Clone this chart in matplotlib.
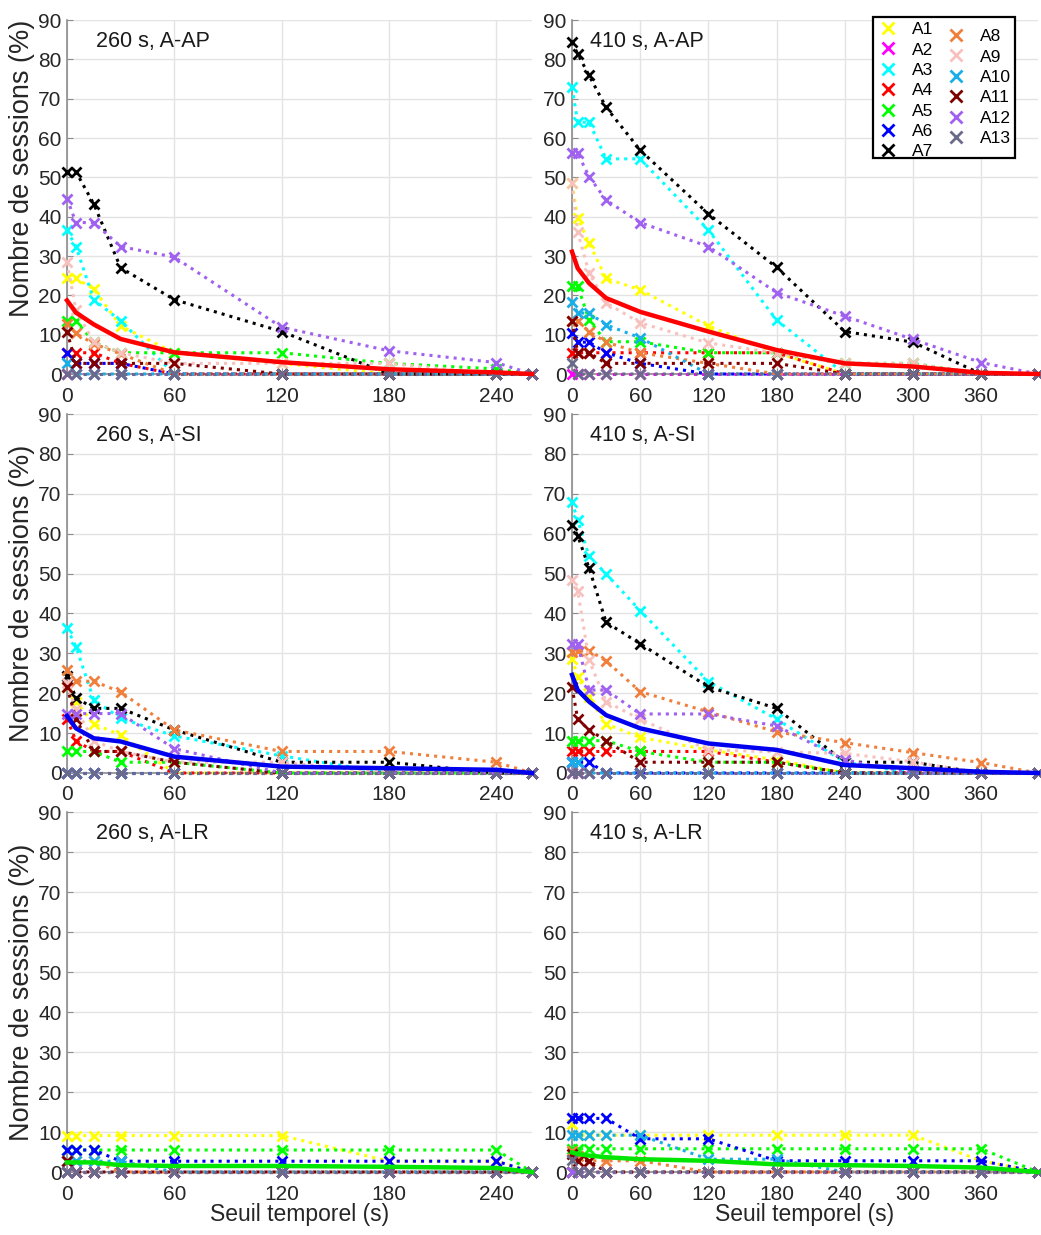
import matplotlib
matplotlib.use("Agg")
import matplotlib.pyplot as plt
from matplotlib.lines import Line2D
from matplotlib.patches import Rectangle

plt.rcParams['font.family'] = ['Liberation Sans', 'DejaVu Sans']

# -----------------------------
# data
# -----------------------------
x260 = [0, 5, 15, 30, 60, 120, 180, 240, 260]
x410 = [0, 5, 15, 30, 60, 120, 180, 240, 300, 360, 410]

names = ['A1', 'A2', 'A3', 'A4', 'A5', 'A6', 'A7',
         'A8', 'A9', 'A10', 'A11', 'A12', 'A13']
colors = ['#ffff00', '#ff00ff', '#00ffff', '#ff0000', '#00ff00', '#0000ff', '#000000',
          '#f07f3c', '#f7c1be', '#19aee8', '#800000', '#a060f0', '#6a6a8a']

z9 = [0] * 9
z11 = [0] * 11

# 260 s, A-AP
ap260 = [
    [24.3, 24.3, 21.6, 12.2, 5.4, 2.7, 0, 0, 0],
    z9,
    [36.5, 32.4, 18.9, 13.5, 0, 0, 0, 0, 0],
    [5.4, 5.4, 5.4, 2.7, 0, 0, 0, 0, 0],
    [13.5, 13.5, 8.1, 5.4, 5.4, 5.4, 2.7, 1.3, 0],
    [5.4, 2.7, 2.7, 2.7, 0, 0, 0, 0, 0],
    [51.4, 51.4, 43.2, 27.0, 18.9, 10.8, 0, 0, 0],
    [12.8, 10.3, 7.7, 5.1, 0, 0, 0, 0, 0],
    [28.4, 16.2, 8.1, 5.4, 2.7, 2.7, 2.7, 0, 0],
    [2.7, 0, 0, 0, 0, 0, 0, 0, 0],
    [10.8, 2.7, 2.7, 2.7, 2.7, 0, 0, 0, 0],
    [44.6, 38.5, 38.5, 32.4, 29.7, 11.9, 5.9, 2.9, 0],
    z9,
]
ap260_mean = [18.7, 15.6, 12.6, 8.9, 5.5, 3.0, 1.2, 0.4, 0]

# 410 s, A-AP
ap410 = [
    [48.6, 39.7, 33.3, 24.3, 21.4, 12.2, 5.4, 0, 0, 0, 0],
    z11,
    [72.9, 64.0, 64.0, 54.7, 54.7, 36.6, 13.7, 0, 0, 0, 0],
    [5.4, 5.4, 5.4, 5.4, 5.4, 5.4, 5.4, 0, 0, 0, 0],
    [22.4, 22.4, 13.7, 8.2, 8.2, 5.4, 5.4, 2.7, 2.7, 0, 0],
    [10.5, 8.1, 8.1, 5.4, 2.7, 0, 0, 0, 0, 0, 0],
    [84.3, 81.4, 75.9, 67.8, 56.9, 40.7, 27.1, 10.8, 8.1, 0, 0],
    [13.5, 13.5, 10.8, 8.1, 5.4, 2.7, 0, 0, 0, 0, 0],
    [48.6, 36.1, 25.7, 18.1, 13.0, 7.9, 5.3, 2.7, 2.7, 0, 0],
    [18.4, 15.5, 15.5, 12.5, 9.2, 0, 0, 0, 0, 0, 0],
    [13.5, 5.4, 5.4, 2.7, 2.7, 2.7, 2.7, 0, 0, 0, 0],
    [56.1, 56.1, 50.2, 44.2, 38.5, 32.4, 20.7, 14.7, 8.8, 2.9, 0],
    [2.7, 0, 0, 0, 0, 0, 0, 0, 0, 0, 0],
]
ap410_mean = [31.1, 26.9, 23.1, 19.3, 15.8, 10.8, 6.1, 2.7, 1.9, 0.3, 0]

# 260 s, A-SI
si260 = [
    [21.6, 17.9, 12.3, 9.5, 0, 0, 0, 0, 0],
    z9,
    [36.3, 31.7, 18.3, 13.7, 9.3, 4.3, 0, 0, 0],
    [13.5, 8.1, 5.4, 5.4, 0, 0, 0, 0, 0],
    [5.4, 5.4, 5.4, 2.7, 2.7, 0, 0, 0, 0],
    z9,
    [24.3, 18.9, 16.2, 16.2, 10.8, 2.7, 2.7, 0, 0],
    [25.7, 23.0, 23.0, 20.3, 10.8, 5.4, 5.4, 2.7, 0],
    [22.5, 16.0, 8.1, 5.4, 2.7, 2.7, 0, 0, 0],
    z9,
    [21.6, 13.5, 5.4, 5.4, 2.7, 0, 0, 0, 0],
    [14.9, 14.9, 14.9, 14.9, 6.1, 0, 0, 0, 0],
    z9,
]
si260_mean = [14.3, 11.2, 8.7, 7.9, 4.1, 1.6, 1.2, 0.8, 0]

# 410 s, A-SI
si410 = [
    [28.7, 24.1, 19.0, 12.3, 8.9, 5.8, 3.3, 0, 0, 0, 0],
    z11,
    [68.0, 63.4, 54.4, 49.9, 40.7, 22.9, 13.5, 2.7, 0, 0, 0],
    [5.4, 5.4, 5.4, 5.4, 5.4, 5.4, 2.7, 0, 0, 0, 0],
    [8.1, 8.1, 8.1, 8.1, 5.4, 2.7, 2.7, 0, 0, 0, 0],
    [2.7, 2.7, 2.7, 0, 0, 0, 0, 0, 0, 0, 0],
    [62.2, 59.5, 51.4, 37.8, 32.4, 21.6, 16.2, 2.7, 2.7, 0, 0],
    [30.4, 30.5, 30.7, 28.1, 20.4, 15.3, 10.3, 7.6, 5.1, 2.6, 0],
    [48.4, 45.7, 28.3, 17.9, 13.5, 5.8, 5.3, 4.9, 2.8, 0, 0],
    [2.7, 2.7, 0, 0, 0, 0, 0, 0, 0, 0, 0],
    [21.6, 13.5, 10.8, 8.1, 2.7, 2.7, 2.7, 0, 0, 0, 0],
    [32.4, 32.4, 20.8, 20.8, 14.8, 14.8, 11.8, 3.3, 0, 0, 0],
    z11,
]
si410_mean = [24.6, 20.8, 17.9, 14.5, 11.2, 7.4, 5.8, 2.0, 1.2, 0.3, 0]

# 260 s, A-LR
lr260 = [
    [9.1, 9.1, 9.1, 9.1, 9.1, 9.1, 2.7, 2.7, 0],
    z9,
    z9,
    z9,
    [5.5, 5.5, 5.5, 5.5, 5.5, 5.5, 5.5, 5.5, 0],
    [5.5, 5.5, 5.5, 2.7, 2.7, 2.7, 2.7, 2.7, 0],
    z9,
    [2.7, 2.7, 2.7, 0, 0, 0, 0, 0, 0],
    z9,
    [2.7, 2.7, 2.7, 2.7, 0, 0, 0, 0, 0],
    [2.7, 0, 0, 0, 0, 0, 0, 0, 0],
    z9,
    z9,
]
lr260_mean = [2.4, 2.4, 2.4, 1.7, 1.5, 1.5, 1.3, 1.0, 0]

# 410 s, A-LR
lr410 = [
    [11.9, 9.2, 9.2, 9.2, 9.2, 9.2, 9.2, 9.2, 9.2, 2.8, 0],
    z11,
    z11,
    z11,
    [5.8, 5.8, 5.8, 5.8, 5.8, 5.8, 5.8, 5.8, 5.8, 5.8, 0],
    [13.4, 13.4, 13.4, 13.4, 8.3, 8.3, 2.8, 2.8, 2.8, 2.8, 0],
    z11,
    [5.3, 4.0, 2.8, 2.8, 2.8, 0, 0, 0, 0, 0, 0],
    z11,
    [9.2, 9.2, 9.2, 9.2, 9.2, 3.2, 3.2, 0, 0, 0, 0],
    [4.5, 2.8, 2.8, 0, 0, 0, 0, 0, 0, 0, 0],
    z11,
    [3.1, 0, 0, 0, 0, 0, 0, 0, 0, 0, 0],
]
lr410_mean = [4.9, 4.5, 4.1, 3.7, 3.2, 2.8, 1.9, 1.7, 1.5, 1.1, 0]

panels = [
    ('260 s, A-AP', x260, ap260, ap260_mean, '#ff0000'),
    ('410 s, A-AP', x410, ap410, ap410_mean, '#ff0000'),
    ('260 s, A-SI', x260, si260, si260_mean, '#0000ee'),
    ('410 s, A-SI', x410, si410, si410_mean, '#0000ee'),
    ('260 s, A-LR', x260, lr260, lr260_mean, '#00e600'),
    ('410 s, A-LR', x410, lr410, lr410_mean, '#00e600'),
]

# -----------------------------
# figure
# -----------------------------
W, H = 1041, 1235
fig = plt.figure(figsize=(W / 100, H / 100), dpi=100)

col_px = [(67, 532), (572, 1038)]
row_px = [(20, 374), (414, 773), (812, 1172)]

grid_c = '#e3e3e3'
spine_c = '#8c8c8c'
txt_c = '#262626'

for i, (title, xs, series, mean, mcol) in enumerate(panels):
    r, c = divmod(i, 2)
    x0, x1 = col_px[c]
    y0, y1 = row_px[r]
    ax = fig.add_axes([x0 / W, 1 - y1 / H, (x1 - x0) / W, (y1 - y0) / H])

    for name, col, ys in zip(names, colors, series):
        ax.plot(xs, ys, linestyle=':', color=col, lw=2.2, marker='x',
                markersize=7, markeredgewidth=2, clip_on=False, zorder=3)
    ax.plot(xs, mean, '-', color=mcol, lw=3.2, clip_on=False, zorder=4)

    ax.set_xlim(0, xs[-1])
    ax.set_ylim(0, 90)
    ax.set_yticks(range(0, 91, 10))
    ax.set_xticks(range(0, xs[-1] - 19, 60))
    ax.grid(True, color=grid_c, lw=1)
    ax.set_axisbelow(True)
    for s in ['top', 'right']:
        ax.spines[s].set_visible(False)
    for s in ['left', 'bottom']:
        ax.spines[s].set_color(spine_c)
        ax.spines[s].set_linewidth(1.2)
    ax.tick_params(direction='in', length=4, color=spine_c, labelsize=15,
                   labelcolor=txt_c)
    ax.tick_params(axis='x', pad=9)
    ax.tick_params(axis='y', pad=4)
    ax.text(16, 84.5, title, fontsize=15.5, color='#1a1a1a',
            va='center', ha='left')

    if c == 0:
        ax.set_ylabel('Nombre de sessions (%)', fontsize=19.5, color=txt_c)
        # top label sits a little higher than the axis centre
        ax.yaxis.set_label_coords(-0.068, 0.58 if r == 0 else 0.5)
    if r == 2:
        ax.set_xlabel('Seuil temporel (s)', fontsize=16.5, color=txt_c, labelpad=0)

    if i == 1:
        # legend: box + two columns, second column slightly lower
        px_x = lambda p: (p - x0) / (x1 - x0)
        px_y = lambda p: (y1 - p) / (y1 - y0)
        ax.add_patch(Rectangle((px_x(873), px_y(158)), 142 / (x1 - x0), 141 / (y1 - y0),
                               transform=ax.transAxes, facecolor='white',
                               edgecolor='black', lw=1.6, zorder=5, clip_on=False))
        handles = [Line2D([], [], linestyle='none', marker='x', color=col,
                          markersize=8, markeredgewidth=2) for col in colors]
        opts = dict(loc='upper left', fontsize=12.5, frameon=False,
                    handlelength=1.0, handletextpad=0.9, labelspacing=0.3,
                    borderpad=0, borderaxespad=0)
        leg1 = ax.legend(handles[:7], names[:7],
                         bbox_to_anchor=(px_x(879), px_y(22)), **opts)
        leg1.set_zorder(6)
        ax.add_artist(leg1)
        leg2 = ax.legend(handles[7:], names[7:],
                         bbox_to_anchor=(px_x(947), px_y(29)), **opts)
        leg2.set_zorder(6)

fig.savefig('out.png', dpi=100)
